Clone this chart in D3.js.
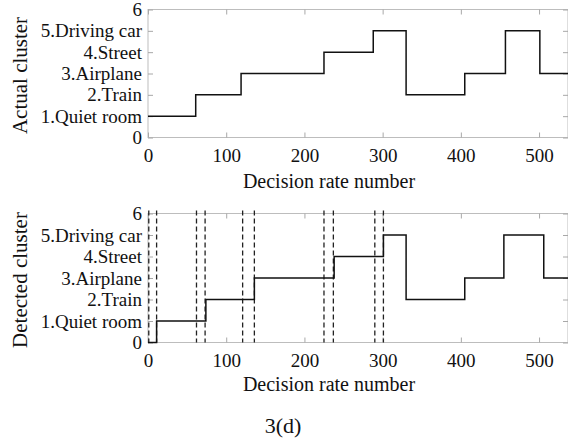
<!DOCTYPE html>
<html>
<head>
<meta charset="utf-8">
<script src="https://cdn.jsdelivr.net/npm/d3@7"></script>
<style>
  body { margin: 0; background: #fff; }
  text { font-family: "Liberation Serif", "Times New Roman", serif; }
</style>
</head>
<body>
<div id="chart"></div>
<script>
// data
const xTicks = [0, 100, 200, 300, 400, 500];
const clusterLabels = ["0", "1.Quiet room", "2.Train", "3.Airplane", "4.Street", "5.Driving car", "6"];

const actualStart = [0, 61, 119, 225, 288, 330, 405, 457, 501, 537];
const actualCluster = [1, 2, 3, 4, 5, 2, 3, 5, 3, 3];

const detectedStart = [0, 11, 74, 136, 238, 301, 330, 405, 455, 506, 537];
const detectedCluster = [0, 1, 2, 3, 4, 5, 2, 3, 5, 3, 3];

const boundaries = [1, 11, 62, 73, 121, 136, 225, 237, 290, 301];

const width = 568, height = 442;
const svg = d3.select("#chart")
    .append("svg")
    .attr("width", width)
    .attr("height", height);

const x = d3.scaleLinear()
    .domain([0, 537])
    .range([148, 568]);

function drawPanel(top, bottom, starts, levels, yLabel, xLabelY, dashes) {
    const y = d3.scaleLinear()
        .domain([0, 6])
        .range([bottom, top]);

    const g = svg.append("g");

    // box
    g.append("rect")
        .attr("x", x(0))
        .attr("y", top)
        .attr("width", x(537) - x(0))
        .attr("height", bottom - top)
        .attr("fill", "none")
        .attr("stroke", "#bdbdbd")
        .attr("stroke-width", 1);

    const ax = g.append("g")
        .attr("transform", `translate(0,${bottom})`)
        .call(d3.axisBottom(x).tickValues(xTicks).tickSize(-5).tickPadding(11));
    const ay = g.append("g")
        .attr("transform", `translate(${x(0)},0)`)
        .call(d3.axisLeft(y).tickValues(d3.range(7))
            .tickFormat(d => clusterLabels[d]).tickSize(-5).tickPadding(6));
    const axTop = g.append("g")
        .attr("transform", `translate(0,${top})`)
        .call(d3.axisTop(x).tickValues(xTicks).tickSize(-5).tickFormat(""));
    const ayRight = g.append("g")
        .attr("transform", `translate(${x(537)},0)`)
        .call(d3.axisRight(y).tickValues(d3.range(7)).tickSize(-5).tickFormat(""));

    [ax, ay, axTop, ayRight].forEach(a => {
        a.select(".domain").remove();
        a.selectAll(".tick line").attr("stroke", "#a8a8a8");
        a.selectAll("text")
            .attr("fill", "#111")
            .style("font-size", "19px");
    });

    // dashed boundaries
    if (dashes) {
        g.selectAll(".bound")
            .data(dashes)
            .join("line")
            .attr("x1", d => x(d))
            .attr("x2", d => x(d))
            .attr("y1", y(6) - 3)
            .attr("y2", y(0))
            .attr("stroke", "#222")
            .attr("stroke-width", 1.3)
            .attr("stroke-dasharray", "5,3");
    }

    const pts = starts.map((s, i) => [s, levels[i]]);
    g.append("path")
        .datum(pts)
        .attr("fill", "none")
        .attr("stroke", "#111")
        .attr("stroke-width", 1.5)
        .attr("d", d3.line()
            .x(d => x(d[0]))
            .y(d => y(d[1]))
            .curve(d3.curveStepAfter));

    g.append("text")
        .attr("x", 329)
        .attr("y", xLabelY)
        .attr("text-anchor", "middle")
        .style("font-size", "20px")
        .attr("fill", "#111")
        .text("Decision rate number");

    g.append("text")
        .attr("transform", `translate(27,${(top + bottom) / 2 + 2}) rotate(-90)`)
        .attr("text-anchor", "middle")
        .style("font-size", "21px")
        .attr("fill", "#111")
        .text(yLabel);
}

drawPanel(9.5, 137.5, actualStart, actualCluster, "Actual cluster", 188, null);
drawPanel(213.5, 342.5, detectedStart, detectedCluster, "Detected cluster", 391, boundaries);

svg.append("text")
    .attr("x", 283)
    .attr("y", 433)
    .attr("text-anchor", "middle")
    .style("font-size", "22px")
    .attr("fill", "#111")
    .text("3(d)");
</script>
</body>
</html>
